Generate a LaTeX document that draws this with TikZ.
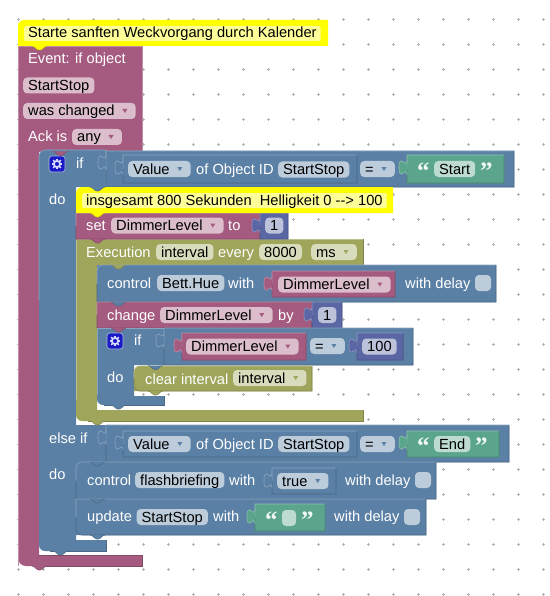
\documentclass[tikz,border=0pt]{standalone}
\usepackage{fontspec}
\setmainfont{Liberation Sans}
\newfontfamily\quotefont{Liberation Serif}
\definecolor{blkpink}{HTML}{A55B80}
\definecolor{blkblue}{HTML}{5B80A5}
\definecolor{blkolive}{HTML}{9FA55B}
\definecolor{blkgreen}{HTML}{5BA58C}
\definecolor{blkpurple}{HTML}{5B67A5}
\definecolor{cmtyellow}{HTML}{FFFF00}
\definecolor{cmtpale}{HTML}{FFFF99}
\tikzset{
  lbl/.style={text=white, inner sep=0pt, anchor=base west, font=\fontsize{14.67}{16}\selectfont},
  field/.style={rounded corners=4pt, inner xsep=5pt, inner ysep=0pt, text height=13pt, text depth=3pt, anchor=west, text=black, font=\fontsize{14.67}{16}\selectfont},
  pinkfield/.style={field, fill=blkpink!40!white},
  bluefield/.style={field, fill=blkblue!40!white},
  olivefield/.style={field, fill=blkolive!40!white},
  greenfield/.style={field, fill=blkgreen!40!white},
  purplefield/.style={field, fill=blkpurple!40!white},
  cmtfield/.style={field, fill=cmtpale, rounded corners=2pt, inner xsep=4pt, text height=12pt, text depth=3pt},
  quotemark/.style={text=white!90!blkgreen, inner sep=0pt, anchor=base west, font=\quotefont\bfseries\fontsize{25}{25}\selectfont},
  checkbox/.style={rounded corners=4pt, fill=blkblue!40!white},
  griddot/.style={draw=black!30, line width=0.5pt},
}
% block with light top and left edge, dark right and bottom edge
\newcommand{\stackblock}[7]{
  \fill[#1] (#2,#5) [rounded corners=#7] -- (#2,#3) [sharp corners] -- (#4,#3) -- (#4,#5) -- cycle;
  \fill[#1] (#2,{0.5*(#3+#5)}) [rounded corners=#6] -- (#2,#3) [sharp corners] -- (#4,#3) -- (#4,{0.5*(#3+#5)}) -- cycle;
  \fill[#1] (#2,{0.5*(#3+#5)}) [rounded corners=#7] -- (#2,#5) [sharp corners] -- (#4,#5) -- (#4,{0.5*(#3+#5)}) -- cycle;
  \draw[#1!70!white, line width=0.6pt] (#2,{0.5*(#3+#5)}) [rounded corners=#6] -- (#2,#3) [sharp corners] -- (#4,#3);
  \draw[#1!80!black, line width=0.6pt] (#4,#3) -- (#4,#5) [rounded corners=#7] -- (#2,#5) -- (#2,{0.5*(#3+#5)});
}
\newcommand{\puzzletab}[3]{
  \begin{scope}[shift={(#2,#3)}]
    \fill[#1] (0,5) .. controls (0,15) and (-8,-3) .. (-8,12.5) .. controls (-8,28) and (0,10) .. (0,20) -- cycle;
    \draw[#1!70!white, line width=0.6pt] (0,5) .. controls (0,15) and (-8,-3) .. (-8,12.5) .. controls (-8,28) and (0,10) .. (0,20);
  \end{scope}
}
\newcommand{\blocktab}[3]{
  \begin{scope}[shift={(#2,#3)}]
    \fill[#1] (0,0) .. controls (3,0) and (4,4) .. (7,4) -- (8,4) .. controls (11,4) and (12,0) .. (15,0) -- cycle;
    \draw[#1!80!black, line width=0.5pt] (0,0) .. controls (3,0) and (4,4) .. (7,4) -- (8,4) .. controls (11,4) and (12,0) .. (15,0);
  \end{scope}
}
\newcommand{\ddarrow}[2]{
  \fill[#2, shift={(#1.east)}] (-13.5,-2) -- (-8.5,-2) -- (-11,2) -- cycle;
}
\newcommand{\gearicon}[2]{
  \begin{scope}[shift={(#1,#2)}]
    \draw[fill=blue!75!black!90!white, draw=blkblue!50!white, line width=0.6pt, rounded corners=3pt] (-8,-8) rectangle (8,8);
    \foreach \ang in {0,45,...,315}
      \draw[white!85!blue, line width=1.6pt, line cap=butt] (\ang:3.4) -- (\ang:5.4);
    \draw[white!85!blue, line width=1.7pt] (0,0) circle (3.1);
  \end{scope}
}

\begin{document}
\begin{tikzpicture}[x=1pt,y=-1pt]
\useasboundingbox (0,0) rectangle (549,596);
\fill[white] (0,0) rectangle (549,596);
\foreach \gx in {0,...,21}
  \foreach \gy in {0,...,23} {
    \draw[griddot] ({18.3+25*\gx-1.5},{19.3+25*\gy}) -- ++(3,0);
    \draw[griddot] ({18.3+25*\gx},{19.3+25*\gy-1.5}) -- ++(0,3);
  }

% event block
\fill[blkpink] (142,46) -- (18,46) [rounded corners=8pt] -- (18,566) [sharp corners] -- (142,566) -- (142,555) -- (39,555) -- (39,152) -- (142,152) -- cycle;
\draw[blkpink!70!white, line width=0.6pt] (142,152) -- (142,46) -- (18,46) [rounded corners=8pt] -- (18,566);
\draw[blkpink!80!black, line width=0.6pt] (40,566) -- (142,566) -- (142,555) -- (39,555);
\node[lbl] (eventlbl) at (28,64) {Event: if object};
\node[pinkfield] (objfield) at (23,85.5) {StartStop};
\node[pinkfield] (changedfield) at (23,111) {was changed\kern16pt};
\ddarrow{changedfield}{blkpink}
\node[lbl] (acklbl) at (28,142) {Ack is};
\node[pinkfield] (anyfield) at (72,137) {any\kern16pt};
\ddarrow{anyfield}{blkpink}

% outer if block
\fill[blkblue] (106,150) [rounded corners=6pt] -- (39,150) [rounded corners=6pt] -- (39,551) [sharp corners] -- (106,551) -- (106,540) -- (76,540) -- (76,462) -- (106,462) -- (106,425) -- (76,425) -- (76,187) -- (106,187) -- cycle;
\draw[blkblue!70!white, line width=0.6pt] (106,187) -- (106,150) [rounded corners=6pt] -- (39,150) -- (39,300);
\draw[blkblue!80!black, line width=0.6pt] (50,551) -- (106,551) -- (106,540);
\gearicon{57}{164}
\node[lbl] (iflbl) at (76,168) {if};
\node[lbl] (dolbl) at (49,204) {do};
\node[lbl] (elselbl) at (49,443) {else if};
\node[lbl] (dotwolbl) at (49,479) {do};

% first compare
\stackblock{blkblue}{106}{151}{514}{187}{0.1pt}{0.1pt}
\puzzletab{blkblue}{106}{150}
\stackblock{blkblue}{123}{155}{357}{183}{0.1pt}{0.1pt}
\puzzletab{blkblue}{123}{155}
\node[bluefield] (valueone) at (128,169) {Value\kern16pt};
\ddarrow{valueone}{blkblue}
\node[lbl] (ofidone) at (196,174) {of Object ID};
\node[bluefield] (idone) at (278,169.5) {StartStop};
\node[bluefield] (eqone) at (360,169) {=\kern16pt};
\ddarrow{eqone}{blkblue}
\stackblock{blkgreen}{407}{155}{504}{183}{0.1pt}{0.1pt}
\puzzletab{blkgreen}{407}{155}
\node[quotemark] (openone) at (417,179) {“};
\node[greenfield] (startfield) at (434,169) {Start};
\node[quotemark] (closeone) at (480,179) {”};

% second if row
\stackblock{blkblue}{106}{425}{509}{462}{0.1pt}{0.1pt}
\puzzletab{blkblue}{106}{425}
\stackblock{blkblue}{123}{431}{357}{457}{0.1pt}{0.1pt}
\puzzletab{blkblue}{123}{430}
\node[bluefield] (valuetwo) at (128,444) {Value\kern16pt};
\ddarrow{valuetwo}{blkblue}
\node[lbl] (ofidtwo) at (196,449) {of Object ID};
\node[bluefield] (idtwo) at (278,444) {StartStop};
\node[bluefield] (eqtwo) at (360,444) {=\kern16pt};
\ddarrow{eqtwo}{blkblue}
\stackblock{blkgreen}{407}{431}{499}{457}{0.1pt}{0.1pt}
\puzzletab{blkgreen}{407}{430}
\node[quotemark] (opentwo) at (417,454) {“};
\node[greenfield] (endfield) at (434,444) {End};
\node[quotemark] (closetwo) at (475,454) {”};

% execution block
\fill[blkolive] (363,239) -- (76,239) [rounded corners=6pt] -- (76,421) [sharp corners] -- (363,421) -- (363,410) -- (97,410) -- (97,265) -- (363,265) -- cycle;
\draw[blkolive!70!white, line width=0.6pt] (76,239) -- (363,239);
\draw[blkolive!70!white, line width=0.6pt] (76,239) -- (76,400);
\draw[blkolive!80!black, line width=0.6pt] (363,239) -- (363,265) -- (97,265);
\draw[blkolive!80!black, line width=0.6pt] (88,421) -- (363,421) -- (363,410);
\node[lbl] (execlbl) at (86,257) {Execution};
\node[olivefield] (intfield) at (156,252) {interval};
\node[lbl] (everylbl) at (218,257) {every};
\node[olivefield] (msvalue) at (259,252) {8000};
\node[olivefield] (msfield) at (311,252) {ms\kern16pt};
\ddarrow{msfield}{blkolive}

% set block
\stackblock{blkpink}{76}{213}{260}{239}{0.1pt}{0.1pt}
\node[lbl] (setlbl) at (86,230) {set};
\node[pinkfield] (setfield) at (111,225.5) {DimmerLevel\kern16pt};
\ddarrow{setfield}{blkpink}
\node[lbl] (tolbl) at (228,230) {to};
\stackblock{blkpurple}{260}{213}{288}{239}{0.1pt}{0.1pt}
\puzzletab{blkpurple}{260}{213}
\node[purplefield] (setvalue) at (265,225.5) {1};

% control block
\stackblock{blkblue}{97}{265}{496}{302}{6pt}{0.1pt}
\node[lbl] (ctrllbl) at (107,288) {control};
\node[bluefield] (huefield) at (157,283) {Bett.Hue};
\node[lbl] (withone) at (228,288) {with};
\stackblock{blkpink}{272}{271}{395}{297}{0.1pt}{0.1pt}
\puzzletab{blkpink}{272}{271}
\node[pinkfield] (ctrlfield) at (278,284.5) {DimmerLevel\kern16pt};
\ddarrow{ctrlfield}{blkpink}
\node[lbl] (delayone) at (405,288) {with delay};
\fill[checkbox] (475,275) rectangle (491,291);

% change block
\stackblock{blkpink}{97}{302}{312}{328}{0.1pt}{0.1pt}
\node[lbl] (changelbl) at (107,320) {change};
\node[pinkfield] (changefield) at (160,315) {DimmerLevel\kern16pt};
\ddarrow{changefield}{blkpink}
\node[lbl] (bylbl) at (278,320) {by};
\stackblock{blkpurple}{312}{302}{342}{328}{0.1pt}{0.1pt}
\puzzletab{blkpurple}{312}{302}
\node[purplefield] (changevalue) at (318,315) {1};

% inner if block
\fill[blkblue] (164,328) -- (97,328) [rounded corners=6pt] -- (97,405) [sharp corners] -- (164,405) -- (164,396) -- (134,396) -- (134,365) -- (164,365) -- cycle;
\draw[blkblue!70!white, line width=0.6pt] (164,365) -- (164,328) -- (97,328) -- (97,395);
\draw[blkblue!80!black, line width=0.6pt] (104,405) -- (164,405) -- (164,396);
\gearicon{115}{341}
\node[lbl] (iftwolbl) at (134,345) {if};
\node[lbl] (dothreelbl) at (107,382) {do};
\stackblock{blkblue}{164}{328}{413}{365}{0.1pt}{0.1pt}
\puzzletab{blkblue}{164}{328}
\stackblock{blkpink}{182}{333}{306}{360}{0.1pt}{0.1pt}
\puzzletab{blkpink}{182}{333}
\node[pinkfield] (ifdimmer) at (186,346.5) {DimmerLevel\kern16pt};
\ddarrow{ifdimmer}{blkpink}
\node[bluefield] (eqthree) at (310,346) {=\kern16pt};
\ddarrow{eqthree}{blkblue}
\stackblock{blkpurple}{357}{333}{403}{360}{0.1pt}{0.1pt}
\puzzletab{blkpurple}{357}{333}
\node[purplefield] (hundred) at (362,346.5) {100};

% clear interval block
\stackblock{blkolive}{134}{366}{312}{391}{6pt}{6pt}
\node[lbl] (clearlbl) at (145,384) {clear interval};
\node[olivefield] (clearfield) at (233,378) {interval\kern16pt};
\ddarrow{clearfield}{blkolive}

% flashbriefing control
\stackblock{blkblue}{76}{462}{436}{499}{6pt}{0.1pt}
\node[lbl] (ctrltwo) at (87,485) {control};
\node[bluefield] (flashfield) at (135,480) {flashbriefing};
\node[lbl] (withtwo) at (229,485) {with};
\stackblock{blkblue}{272}{468}{336}{494}{0.1pt}{0.1pt}
\puzzletab{blkblue}{272}{468}
\node[bluefield] (truefield) at (277,481) {true\kern16pt};
\ddarrow{truefield}{blkblue}
\node[lbl] (delaytwo) at (345,485) {with delay};
\fill[checkbox] (415,472) rectangle (431,488);

% update block
\stackblock{blkblue}{76}{499}{426}{535}{0.1pt}{6pt}
\node[lbl] (updatelbl) at (87,521) {update};
\node[bluefield] (updatefield) at (136.5,517) {StartStop};
\node[lbl] (withthree) at (213,521) {with};
\stackblock{blkgreen}{255}{504}{325}{531}{0.1pt}{0.1pt}
\puzzletab{blkgreen}{255}{504}
\node[quotemark] (openthree) at (265,528) {“};
\fill[rounded corners=4pt, blkgreen!40!white] (282,510) rectangle (296,526);
\node[quotemark] (closethree) at (301,528) {”};
\node[lbl] (delaythree) at (334,521) {with delay};
\fill[checkbox] (404,509) rectangle (420,525);

% comments
\fill[cmtyellow] (18,46) [rounded corners=6pt] -- (18,20) [sharp corners] -- (328,20) -- (328,46) -- cycle;
\node[cmtfield] (cmtone) at (24,33.5) {Starte sanften Weckvorgang durch Kalender};
\fill[cmtyellow] (76,213) [rounded corners=6pt] -- (76,187) [sharp corners] -- (393,187) -- (393,213) -- cycle;
\node[cmtfield] (cmttwo) at (82,200.5) {insgesamt 800 Sekunden\ \ Helligkeit 0 -{}-> 100};

% tabs over the block below
\blocktab{cmtyellow}{32}{46}
\blocktab{blkpink}{53}{151.5}
\blocktab{blkpink}{32}{566}
\blocktab{blkblue}{90}{187}
\blocktab{blkblue}{53}{551}
\blocktab{blkblue}{90}{462}
\blocktab{cmtyellow}{90}{213}
\blocktab{blkpink}{90}{239}
\blocktab{blkolive}{111}{265}
\blocktab{blkolive}{90}{421}
\blocktab{blkblue}{111}{302}
\blocktab{blkpink}{111}{328}
\blocktab{blkblue}{148}{365.5}
\blocktab{blkblue}{111}{405}
\blocktab{blkolive}{148}{391}
\blocktab{blkblue}{90}{499}
\blocktab{blkblue}{90}{535}
\end{tikzpicture}
\end{document}
